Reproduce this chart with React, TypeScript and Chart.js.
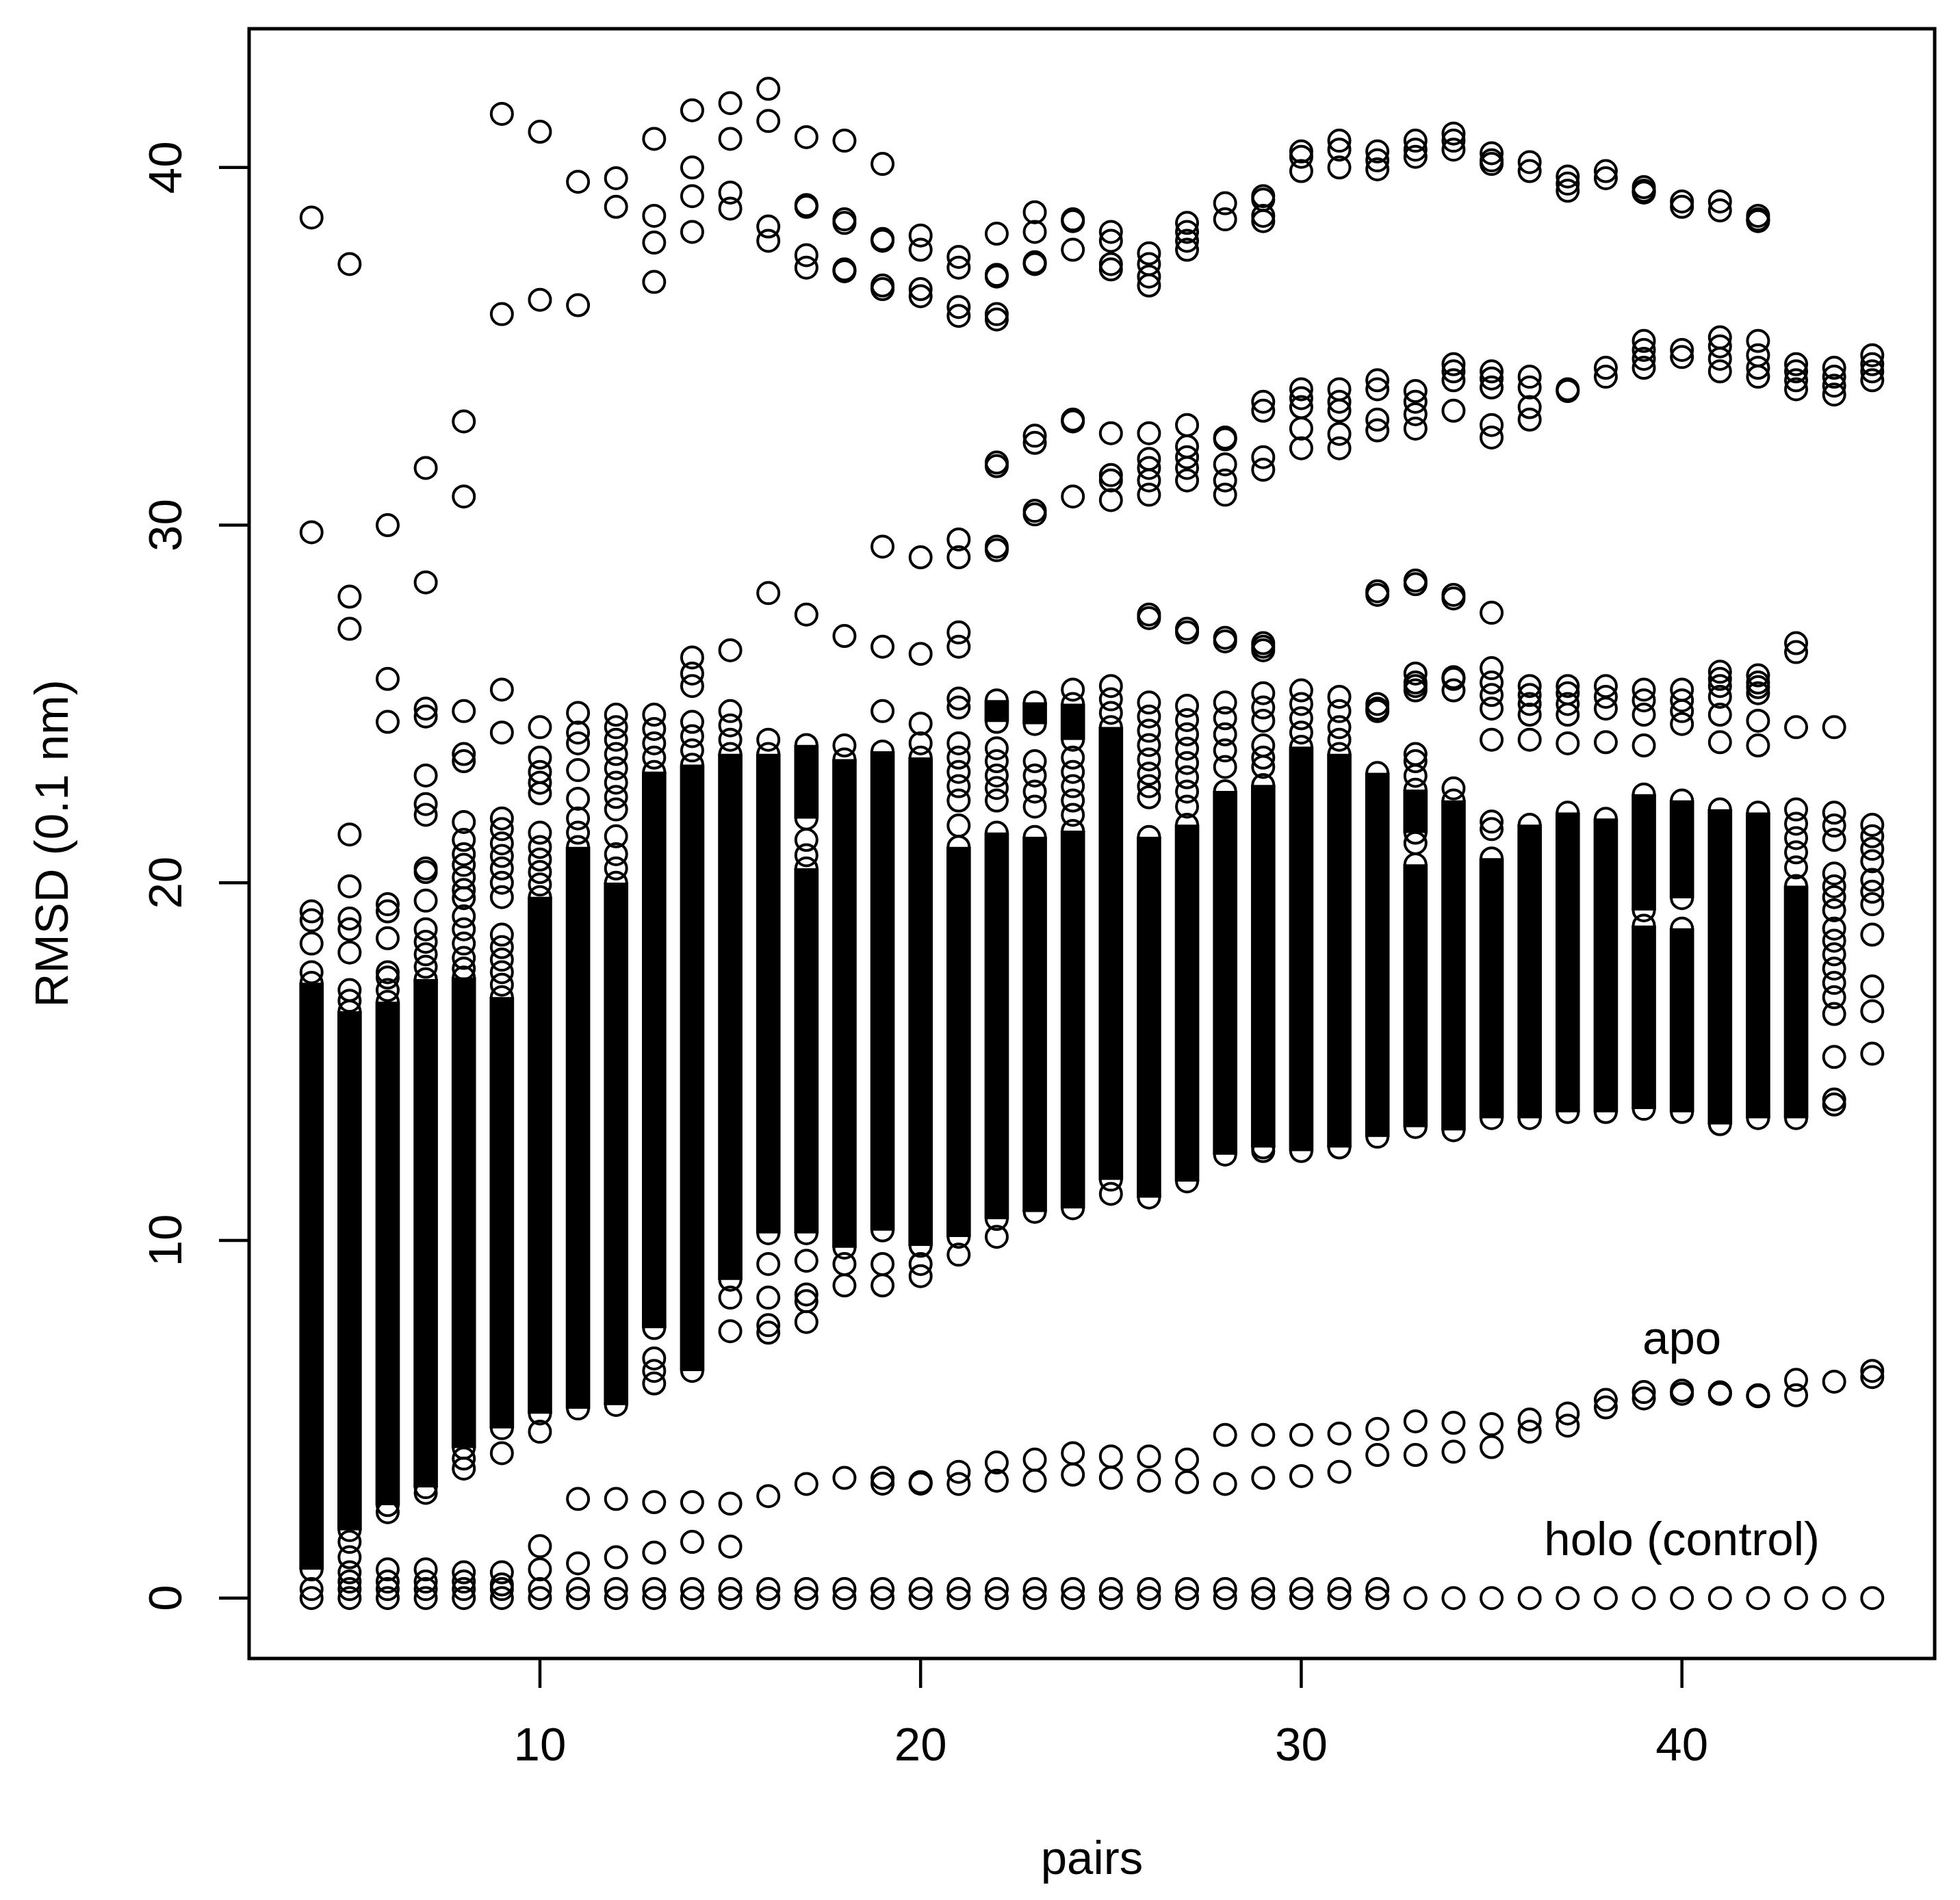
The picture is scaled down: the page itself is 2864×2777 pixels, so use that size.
import React, { useEffect, useRef } from 'react';
import Chart from 'chart.js/auto';

// number of pairs on the x axis
const pairs = [
  4, 5, 6, 7, 8, 9, 10, 11, 12, 13, 14, 15, 16, 17, 18, 19, 20, 21, 22, 23, 24,
  25, 26, 27, 28, 29, 30, 31, 32, 33, 34, 35, 36, 37, 38, 39, 40, 41, 42, 43, 44, 45,
];

// holo (control) RMSD, one list per pair
const holoRmsd: number[][] = [
  [0, 0.25], [0, 0.25], [0, 0.25], [0, 0.25], [0, 0.25], [0, 0.25], [0, 0.25],
  [0, 0.25], [0, 0.25], [0, 0.25], [0, 0.25], [0, 0.25], [0, 0.25], [0, 0.25],
  [0, 0.25], [0, 0.25], [0, 0.25], [0, 0.25], [0, 0.25], [0, 0.25], [0, 0.25],
  [0, 0.25], [0, 0.25], [0, 0.25], [0, 0.25], [0, 0.25], [0, 0.25], [0, 0.25],
  [0, 0.25], [0], [0], [0], [0], [0], [0], [0], [0], [0], [0], [0], [0], [0],
];

// apo RMSD (lower series), one list per pair
const apoRmsd: number[][] = [
  [], [], [], [], [], [],
  [1.45, 0.8], [2.77, 0.97], [2.77, 1.14], [2.68, 1.27], [2.68, 1.57], [2.64, 1.44],
  [2.85], [3.19], [3.36], [3.36, 3.2], [3.24, 3.2], [3.53, 3.19], [3.79, 3.28],
  [3.87, 3.28], [4.05, 3.45], [3.96, 3.36], [3.96, 3.28], [3.87, 3.24], [4.56, 3.19],
  [4.56, 3.36], [4.56, 3.41], [4.6, 3.53], [4.73, 4.0], [4.94, 4.0], [4.9, 4.09],
  [4.86, 4.22], [4.99, 4.65], [5.16, 4.82], [5.54, 5.33], [5.76, 5.58], [5.8, 5.71],
  [5.71, 5.75], [5.67, 5.64], [6.1, 5.67], [6.05], [6.35, 6.18],
];

// single circles outside the packed bands, one list per pair
const looseRmsd: number[][] = [
  [38.6, 29.8, 19.2, 18.95, 18.3, 17.5],
  [37.3, 28.0, 27.1, 21.35, 19.9, 19.0, 18.7, 18.05, 17.0, 16.7, 1.57, 1.14, 0.72, 0.46],
  [30.0, 25.7, 24.5, 19.4, 19.2, 18.45, 17.5, 17.35, 17.0, 2.4, 0.8, 0.46],
  [31.6, 28.4, 24.87, 24.65, 23.0, 22.2, 21.9, 20.4, 20.3, 19.5, 18.7, 18.35, 18.0, 17.65, 2.94, 0.8, 0.46],
  [32.9, 30.8, 24.8, 23.6, 23.4, 21.7, 21.2, 20.8, 20.5, 20.15, 19.8, 19.57, 19.06, 18.7, 18.3, 17.9, 17.6, 3.9, 3.62, 0.72, 0.46],
  [41.5, 35.9, 25.4, 24.2, 21.8, 21.5, 21.1, 20.75, 20.4, 20.0, 19.6, 18.55, 18.2, 17.85, 17.5, 17.15, 4.05, 0.72, 0.38],
  [41.0, 36.3, 24.35, 23.5, 23.1, 22.8, 22.5, 21.4, 21.0, 20.65, 20.3, 19.95, 4.65],
  [39.6, 36.15, 24.75, 24.2, 23.9, 23.15, 22.35, 21.8, 21.4],
  [39.7, 38.9, 24.7, 24.35, 24.0, 23.6, 23.2, 22.8, 22.4, 22.05, 21.3, 20.8, 20.4],
  [40.8, 38.65, 37.9, 36.8, 24.7, 24.3, 23.9, 23.5, 6.7, 6.35, 6.0],
  [41.6, 40.0, 39.2, 38.2, 26.3, 25.85, 25.5, 24.5, 24.1, 23.7],
  [41.8, 40.8, 39.3, 38.85, 26.5, 24.8, 24.4, 24.0, 8.4, 7.46],
  [42.2, 41.3, 38.35, 37.95, 28.1, 24.0, 9.34, 8.4, 7.63, 7.42],
  [40.85, 38.95, 38.9, 37.55, 37.2, 27.5, 20.77, 21.2, 9.43, 8.49, 8.3, 7.72],
  [40.75, 38.55, 38.45, 37.15, 37.1, 26.9, 23.84, 9.34, 8.74],
  [40.1, 38.0, 37.95, 36.7, 36.6, 29.4, 26.6, 24.8, 9.34, 8.74],
  [38.1, 37.7, 36.6, 36.4, 29.1, 26.4, 24.45, 23.9, 9.34, 9.0],
  [37.5, 37.2, 36.1, 35.85, 29.6, 29.1, 27.0, 26.6, 25.15, 24.9, 23.9, 23.5, 23.1, 22.7, 22.3, 21.6, 9.6],
  [38.15, 37.0, 36.95, 35.9, 35.75, 31.75, 31.65, 29.4, 29.3, 23.76, 23.4, 23.0, 22.65, 22.3, 10.1],
  [38.75, 38.2, 37.35, 37.3, 32.5, 32.3, 30.4, 30.3, 23.4, 23.0, 22.55, 22.13],
  [38.55, 38.5, 37.7, 32.95, 32.9, 30.8, 25.4, 23.5, 23.1, 22.7, 22.3, 21.9],
  [38.2, 37.95, 37.3, 37.15, 32.57, 31.4, 31.25, 30.7, 25.5, 25.13, 24.75, 11.3],
  [37.6, 37.3, 36.95, 36.7, 32.57, 31.85, 31.6, 31.25, 30.85, 27.5, 27.4, 25.04, 24.65, 24.25, 23.85, 23.45, 23.05, 22.7, 22.39],
  [38.45, 38.2, 37.95, 37.7, 32.8, 32.2, 31.9, 31.6, 31.25, 27.1, 27.0, 24.95, 24.55, 24.15, 23.75, 23.35, 22.95, 22.55, 22.13],
  [39.0, 38.55, 32.45, 32.4, 31.7, 31.25, 30.85, 26.85, 26.75, 25.04, 24.6, 24.15, 23.7, 23.24],
  [39.2, 39.1, 38.65, 38.5, 33.45, 33.2, 31.9, 31.55, 26.7, 26.6, 26.5, 25.3, 24.9, 24.53, 23.84, 23.5, 23.24, 12.5],
  [40.45, 40.3, 39.9, 33.8, 33.55, 33.3, 32.7, 32.15, 25.38, 25.0, 24.6, 24.2],
  [40.75, 40.5, 40.0, 33.8, 33.45, 33.2, 32.55, 32.15, 25.2, 24.8, 24.35, 24.0],
  [40.45, 40.2, 39.95, 34.05, 33.8, 32.95, 32.65, 28.15, 28.05, 25.0, 24.87, 24.8],
  [40.75, 40.5, 40.3, 33.75, 33.45, 33.1, 32.7, 28.45, 28.35, 25.85, 25.6, 25.5, 25.38, 23.6, 23.4, 22.99, 21.11],
  [40.95, 40.75, 40.5, 34.5, 34.3, 34.05, 33.2, 28.05, 27.95, 25.75, 25.7, 25.38, 22.64],
  [40.4, 40.2, 40.1, 34.3, 34.1, 33.85, 32.8, 32.45, 27.55, 26.0, 25.6, 25.25, 24.87, 24.0, 21.71, 21.5],
  [40.15, 39.9, 34.15, 33.85, 33.3, 32.95, 25.5, 25.25, 25.0, 24.7, 24.0],
  [39.75, 39.55, 39.35, 33.8, 33.75, 25.5, 25.3, 25.0, 24.7, 23.9],
  [39.9, 39.7, 34.4, 34.15, 25.5, 25.2, 24.87, 23.93],
  [39.45, 39.35, 39.3, 35.15, 34.9, 34.65, 34.4, 25.4, 25.1, 24.7, 23.84],
  [39.05, 38.9, 34.9, 34.7, 25.4, 25.1, 24.8, 24.44],
  [39.05, 38.8, 35.25, 35.0, 34.65, 34.3, 25.9, 25.7, 25.5, 25.2, 24.7, 23.93],
  [38.65, 38.55, 38.5, 35.15, 34.75, 34.4, 34.15, 25.8, 25.6, 25.47, 25.3, 24.53, 23.84],
  [34.5, 34.3, 34.05, 33.8, 26.7, 26.45, 24.35, 22.05, 21.65, 21.25, 20.85, 20.43],
  [34.4, 34.15, 33.9, 33.65, 24.35, 21.96, 21.6, 21.2, 20.26, 19.9, 19.6, 19.23, 18.72, 18.38, 18.0, 17.6, 17.2, 16.8, 16.33, 15.13, 13.94, 13.8],
  [34.75, 34.5, 34.3, 34.05, 21.62, 21.3, 20.95, 20.6, 20.08, 19.75, 19.4, 18.55, 17.1, 16.41, 15.22],
];

// stretches so densely packed with circles that they read as solid: [from, to]
const denseBands: number[][][] = [
  [[0.8, 17.2]], [[1.9, 16.4]], [[2.6, 16.67]], [[3.1, 17.3]], [[4.2, 17.35]], [[4.75, 16.8]],
  [[5.16, 19.6]], [[5.3, 21.0]], [[5.4, 20.0]], [[7.55, 23.1]], [[6.35, 23.3]], [[8.9, 23.6]],
  [[10.2, 23.6]], [[10.2, 20.4], [21.8, 23.85]], [[9.8, 23.45]], [[10.28, 23.67]],
  [[9.85, 23.5]], [[10.1, 21.0]], [[10.6, 21.4], [24.5, 25.1]], [[10.8, 21.28], [24.44, 25.04]],
  [[10.9, 21.45], [24.0, 25.0]], [[11.7, 24.35]], [[11.2, 21.28]], [[11.65, 21.62]], [[12.4, 22.56]],
  [[12.6, 22.73]], [[12.5, 23.8]], [[12.6, 23.6]], [[12.9, 23.07]], [[13.17, 20.51], [21.4, 22.6]],
  [[13.08, 22.3]], [[13.42, 20.68]], [[13.42, 21.62]], [[13.59, 21.96]], [[13.59, 21.79]],
  [[13.68, 18.8], [19.23, 22.47]], [[13.59, 18.72], [19.57, 22.3]], [[13.25, 22.05]],
  [[13.42, 21.96]], [[13.42, 19.91]], [], [],
];

const xTicks = [10, 20, 30, 40];
const yTicks = [0, 10, 20, 30, 40];

// in-plot labels, placed in data units
const notes = [
  { text: 'apo', x: 40, y: 6.83 },
  { text: 'holo (control)', x: 40, y: 1.19 },
];

const FONT = '69px "Liberation Sans", Arial, Helvetica, sans-serif';

const rStyleAxes = {
  id: 'rStyleAxes',
  afterDraw(chart: any) {
    const { ctx, chartArea: a, scales } = chart;
    const sx = scales.x;
    const sy = scales.y;
    ctx.save();
    ctx.strokeStyle = '#000';
    ctx.fillStyle = '#000';
    ctx.lineWidth = 5;
    ctx.strokeRect(a.left, a.top, a.right - a.left, a.bottom - a.top);

    ctx.font = FONT;
    ctx.lineWidth = 4.5;
    ctx.textAlign = 'center';
    ctx.textBaseline = 'alphabetic';

    xTicks.forEach((v) => {
      const px = sx.getPixelForValue(v);
      ctx.beginPath();
      ctx.moveTo(px, a.bottom);
      ctx.lineTo(px, a.bottom + 43);
      ctx.stroke();
      ctx.fillText(String(v), px, a.bottom + 149);
    });

    yTicks.forEach((v) => {
      const py = sy.getPixelForValue(v);
      ctx.beginPath();
      ctx.moveTo(a.left - 44, py);
      ctx.lineTo(a.left, py);
      ctx.stroke();
      ctx.save();
      ctx.translate(a.left - 99, py);
      ctx.rotate(-Math.PI / 2);
      ctx.fillText(String(v), 0, 0);
      ctx.restore();
    });

    ctx.fillText('pairs', (a.left + a.right) / 2, a.bottom + 315);

    ctx.save();
    ctx.translate(a.left - 265, (a.top + a.bottom) / 2);
    ctx.rotate(-Math.PI / 2);
    ctx.fillText('RMSD (0.1 nm)', 0, 0);
    ctx.restore();

    notes.forEach((n) => {
      ctx.fillText(n.text, sx.getPixelForValue(n.x), sy.getPixelForValue(n.y));
    });
    ctx.restore();
  },
};

const App: React.FC = () => {
  const canvasRef = useRef<HTMLCanvasElement>(null);

  useEffect(() => {
    if (!canvasRef.current) return;
    const ctx = canvasRef.current.getContext('2d');
    if (!ctx) return;

    const circles: { x: number; y: number }[] = [];
    const bars: { x: number; y: number[] }[] = [];
    pairs.forEach((p, i) => {
      [...holoRmsd[i], ...apoRmsd[i], ...looseRmsd[i]].forEach((v) => circles.push({ x: p, y: v }));
      denseBands[i].forEach(([lo, hi]) => {
        bars.push({ x: p, y: [lo, hi] });
        circles.push({ x: p, y: lo }, { x: p, y: hi });
      });
    });

    const chart = new Chart(ctx, {
      type: 'scatter',
      data: {
        datasets: [
          {
            type: 'bar',
            data: bars as any,
            backgroundColor: '#000',
            borderWidth: 0,
            barThickness: 35,
          },
          {
            type: 'scatter',
            data: circles,
            pointStyle: 'circle',
            pointRadius: 15.5,
            pointHoverRadius: 15.5,
            borderWidth: 4,
            borderColor: '#000',
            backgroundColor: 'rgba(0,0,0,0)',
          },
        ],
      },
      options: {
        animation: false,
        responsive: false,
        events: [],
        layout: { padding: { left: 364, top: 42, right: 37, bottom: 353 } },
        scales: {
          x: { type: 'linear', min: 2.36, max: 46.64, offset: false, display: false },
          y: { type: 'linear', min: -1.69, max: 43.88, display: false },
        },
        plugins: { legend: { display: false }, tooltip: { enabled: false } },
      },
      plugins: [rStyleAxes],
    });

    return () => chart.destroy();
  }, []);

  return (
    <div style={{ position: 'absolute', left: 0, top: 0, width: 2864, height: 2777, background: '#fff' }}>
      <canvas ref={canvasRef} width={2864} height={2777} style={{ display: 'block', width: 2864, height: 2777 }} />
    </div>
  );
};

export default App;
